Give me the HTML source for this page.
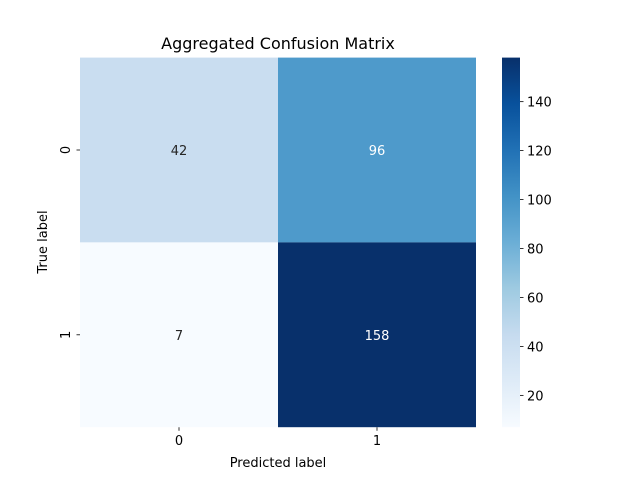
<!DOCTYPE html>
<html><head><meta charset="utf-8"><style>
body{margin:0;background:#fff;font-family:"Liberation Sans","DejaVu Sans",sans-serif;}
</style></head><body>
<svg width="640" height="480" xmlns="http://www.w3.org/2000/svg" font-family="DejaVu Sans, Liberation Sans, sans-serif">
<defs>
<linearGradient id="blues" x1="0" y1="1" x2="0" y2="0">
<stop offset="0" stop-color="#f7fbff"/><stop offset="0.125" stop-color="#deebf7"/><stop offset="0.25" stop-color="#c6dbef"/><stop offset="0.375" stop-color="#9ecae1"/><stop offset="0.5" stop-color="#6baed6"/><stop offset="0.625" stop-color="#4292c6"/><stop offset="0.75" stop-color="#2171b5"/><stop offset="0.875" stop-color="#08519c"/><stop offset="1" stop-color="#08306b"/>
</linearGradient>
</defs>
<text x="278" y="49" font-size="16" text-anchor="middle">Aggregated Confusion Matrix</text>
<g id="cells"></g>
<rect x="502" y="57.6" width="18" height="369.6" fill="url(#blues)"/>
<g id="cbticks" font-size="13"></g>
<g id="axticks" font-size="13"></g>
<text x="278" y="467" font-size="13" text-anchor="middle">Predicted label</text>
<text x="47" y="242" font-size="13" text-anchor="middle" transform="rotate(-90 47 242)">True label</text>
</svg>
<script>
const labels=["0","1"];
const values=[[42,96],[7,158]];
const cbTicks=[20,40,60,80,100,120,140];
const vmin=7,vmax=158;
const X0=80,X1=476,Y0=57.6,Y1=427.2;
const stops=[[247,251,255],[222,235,247],[198,219,239],[158,202,225],[107,174,214],[66,146,198],[33,113,181],[8,81,156],[8,48,107]];
function color(v){let t=(v-vmin)/(vmax-vmin);t=Math.max(0,Math.min(1,t))*8;const i=Math.min(7,Math.floor(t)),f=t-i;const c=stops[i].map((a,k)=>Math.round(a+(stops[i+1][k]-a)*f));return `rgb(${c})`;}
const ns="http://www.w3.org/2000/svg";
const cw=(X1-X0)/labels.length,ch=(Y1-Y0)/labels.length;
const cells=document.getElementById('cells');
values.forEach((row,r)=>row.forEach((v,c)=>{
 const rect=document.createElementNS(ns,'rect');
 rect.setAttribute('x',X0+c*cw);rect.setAttribute('y',Y0+r*ch);rect.setAttribute('width',cw);rect.setAttribute('height',ch);rect.setAttribute('fill',color(v));
 
 
 cells.appendChild(rect);
 const t=document.createElementNS(ns,'text');
 t.setAttribute('x',X0+(c+0.5)*cw);t.setAttribute('y',Y0+(r+0.5)*ch+5);t.setAttribute('text-anchor','middle');t.setAttribute('font-size','13');
 t.setAttribute('fill',(v-vmin)/(vmax-vmin)>0.5?'#fff':'#262626');t.textContent=v;
 
 
 cells.appendChild(t);
}));
const cb=document.getElementById('cbticks');
cbTicks.forEach(v=>{
 const y=Y1-(v-vmin)/(vmax-vmin)*(Y1-Y0);
 const l=document.createElementNS(ns,'line');l.setAttribute('x1',520);l.setAttribute('x2',523.5);l.setAttribute('y1',y);l.setAttribute('y2',y);l.setAttribute('stroke','#000');l.setAttribute('stroke-width','0.8');
 
 
 cb.appendChild(l);
 const t=document.createElementNS(ns,'text');t.setAttribute('x',527);t.setAttribute('y',y+5);t.textContent=v;
 
 
 cb.appendChild(t);
});
const ax=document.getElementById('axticks');
labels.forEach((lab,i)=>{
 const x=X0+(i+0.5)*cw,y=Y0+(i+0.5)*ch;
 const l=document.createElementNS(ns,'line');l.setAttribute('x1',x);l.setAttribute('x2',x);l.setAttribute('y1',Y1);l.setAttribute('y2',Y1+3.5);l.setAttribute('stroke','#000');l.setAttribute('stroke-width','0.8');
 
 
 ax.appendChild(l);
 const t=document.createElementNS(ns,'text');t.setAttribute('x',x);t.setAttribute('y',Y1+18);t.setAttribute('text-anchor','middle');t.textContent=lab;
 
 
 ax.appendChild(t);
 const l2=document.createElementNS(ns,'line');l2.setAttribute('x1',X0-3.5);l2.setAttribute('x2',X0);l2.setAttribute('y1',y);l2.setAttribute('y2',y);l2.setAttribute('stroke','#000');l2.setAttribute('stroke-width','0.8');
 
 
 ax.appendChild(l2);
 const t2=document.createElementNS(ns,'text');t2.setAttribute('x',X0-10);t2.setAttribute('y',y);t2.setAttribute('text-anchor','middle');t2.setAttribute('transform',`rotate(-90 ${X0-10} ${y})`);t2.setAttribute('dy','0');t2.textContent=lab;
 
 
 ax.appendChild(t2);
});
</script>
</body></html>
